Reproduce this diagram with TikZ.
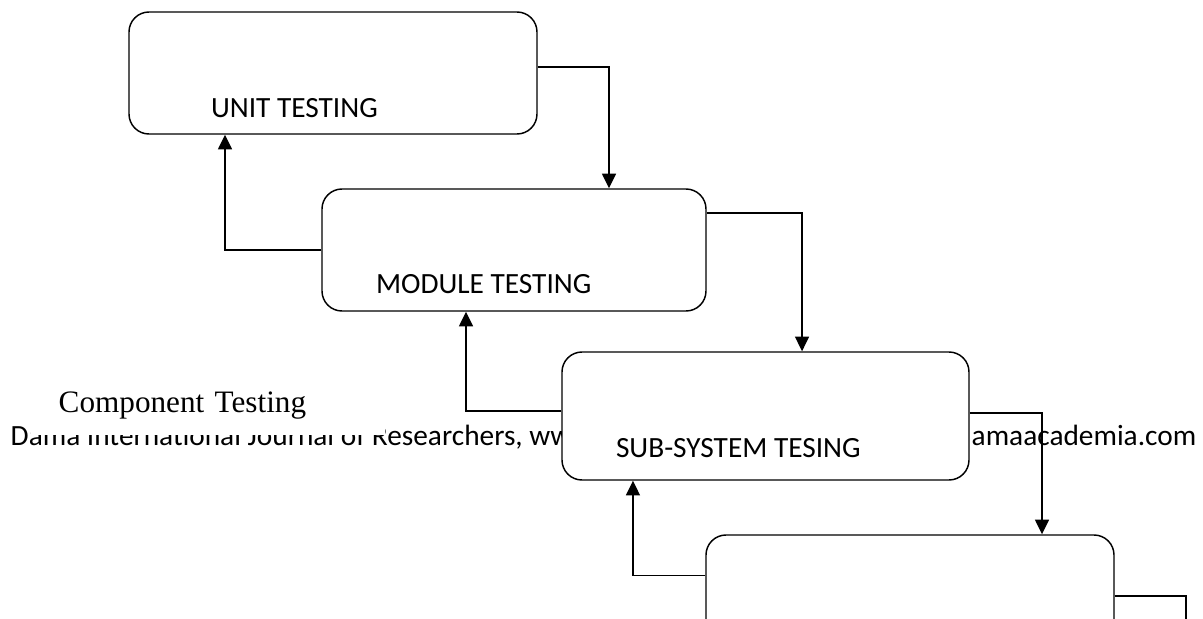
\documentclass[tikz,border=0pt]{standalone}
\usepackage{fontspec}
\setmainfont{Carlito}
\newfontfamily\serifface{Liberation Serif}
\usetikzlibrary{arrows.meta}

\tikzset{every picture/.style={line width=1.1pt}}
\tikzset{
  stagebox/.style={draw, rounded corners=15pt, fill=white, inner sep=0pt},
  stagelbl/.style={inner sep=0pt, anchor=base west, font=\fontsize{22}{26}\selectfont},
  flow/.style={-{Triangle[width=10.5pt,length=11pt]}},
}

\begin{document}
\begin{tikzpicture}[x=0.75pt,y=0.75pt,yscale=-1,xscale=1]
\useasboundingbox (0,0) rectangle (1203,618);
\clip (0,0) rectangle (1203,618);

% Text Node
\node (footleft) [stagelbl] at (10,445) {Dama International Journal of Researchers, www.d};
\node (footright) [stagelbl] at (971,445) {amaacademia.com};
% Text Node
\node (comp) [fill=white, anchor=south west, minimum width=265.5pt, minimum height=45pt, inner xsep=21pt, inner ysep=0pt, text width=223.5pt, align=left, font=\serifface\fontsize{23.4}{28}\selectfont] at (30,436) {Component Testing};

%Rounded Rect
\node (unit) [stagebox, minimum width=306pt, minimum height=91.5pt] at (333,73) {};
%Rounded Rect
\node (module) [stagebox, minimum width=288pt, minimum height=91.5pt] at (514,250) {};
%Rounded Rect
\node (subsys) [stagebox, minimum width=305.25pt, minimum height=96pt] at (765.5,416) {};
%Rounded Rect
\node (system) [stagebox, minimum width=306pt, minimum height=93.75pt] at (910,597.5) {};

% Text Node
\node (unitlbl) [stagelbl] at ([xshift=61.5pt,yshift=-12.75pt]unit.south west) {UNIT TESTING};
% Text Node
\node (modulelbl) [stagelbl] at ([xshift=40.5pt,yshift=-13.5pt]module.south west) {MODULE TESTING};
% Text Node
\node (subsyslbl) [stagelbl] at ([xshift=40.5pt,yshift=-17.25pt]subsys.south west) {SUB-SYSTEM TESING};

\coordinate (sysout) at (1186,650);

%Straight Lines
\draw [flow] ([yshift=-4.5pt]unit.east) -| ([xshift=71.25pt]module.north);
\draw [flow] ([yshift=-27.75pt]module.east) -| ([xshift=27.4pt]subsys.north);
\draw [flow] ([yshift=-2.25pt]subsys.east) -| ([xshift=99pt]system.north);
\draw ([yshift=-1pt]system.east) -| (sysout);
%Straight Lines
\draw [flow] (module.west) -| ([xshift=-81pt]unit.south);
\draw [flow] ([yshift=-3.75pt]subsys.west) -| ([xshift=-36pt]module.south);
\draw [flow] ([yshift=-16.5pt]system.west) -| ([xshift=-99.4pt]subsys.south);

\end{tikzpicture}
\end{document}
